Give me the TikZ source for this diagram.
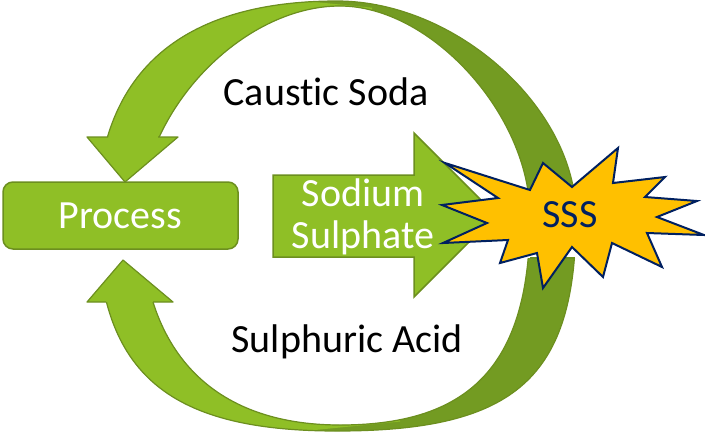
\documentclass[tikz,border=0pt]{standalone}
\usepackage{fontspec}
\setmainfont{Carlito}[Ligatures=CommonOff]
\usetikzlibrary{positioning}
\definecolor{leaf}{RGB}{143,191,38}
\definecolor{moss}{RGB}{115,155,34}
\definecolor{mossline}{RGB}{108,143,31}
\definecolor{gold}{RGB}{255,192,0}
\definecolor{navy}{RGB}{0,32,96}
\tikzset{
    label text/.style = {
        font=\fontsize{40}{48}\selectfont,
        anchor=base,
        inner sep=0pt,
        },
    light band/.style = {
        fill = leaf,
        },
    dark band/.style = {
        fill = moss,
        },
    band edge/.style = {
        draw = mossline,
        line width=1.2pt,
        line join=round,
        },
    process box/.style = {
        fill = leaf,
        draw = mossline,
        line width=1.5pt,
        rounded corners=10pt,
        minimum width=235pt,
        minimum height=67pt,
        text = white,
        font=\fontsize{40}{48}\selectfont,
        },
    burst/.style = {
        fill = gold,
        draw = navy,
        line width=2pt,
        },
}
% the two halves of the loop
\newcommand\causticloop{(97,216) .. controls (97,74.8) and (178.6,1) .. (337,1)
    .. controls (456.5,1) and (576,108.5) .. (576,216) -- (576,230) -- (530,230) -- (530,216)
    .. controls (530,115.2) and (431.2,6) .. (340,6)
    .. controls (242.5,6) and (141,111) .. (141,216) -- cycle}
\newcommand\sulphuricloop{(97,216) .. controls (97,370.8) and (164.2,431) .. (337,431)
    .. controls (516.25,431) and (576,377.25) .. (576,216) -- (530,216)
    .. controls (530,362) and (473,425) .. (340,425)
    .. controls (213.3,425) and (141,351.9) .. (141,216) -- cycle}

\begin{document}
\begin{tikzpicture}[x=1pt, y=-1pt]
    \useasboundingbox (0,0) rectangle (705,432);

    % caustic soda
    \begin{scope}
        \clip (-10,-10) -- (710,-10) -- (710,240) -- (330,240) -- (330,137) -- (-10,137) -- cycle;
        \path[dark band] \causticloop;
        \begin{scope}
            \clip (-10,-4.5) -- (250,-4.5) -- (372,7.7) -- (372,216) -- (-10,216) -- cycle;
            \path[light band] \causticloop;
        \end{scope}
        \path[band edge] \causticloop;
    \end{scope}
    \path[light band] (87,137) -- (178,137) -- (125,182) -- cycle;
    \draw[band edge] (108,137) -- (87,137) -- (125,182) -- (178,137) -- (158,137);

    % sulphuric acid
    \begin{scope}
        \clip (-10,302) -- (330,302) -- (330,258) -- (710,258) -- (710,450) -- (-10,450) -- cycle;
        \path[dark band] \sulphuricloop;
        \begin{scope}
            \clip (-10,200) -- (400,200) -- (400,421.5) -- (250,436.5) -- (-10,436.5) -- cycle;
            \path[light band] \sulphuricloop;
        \end{scope}
        \path[band edge] \sulphuricloop;
    \end{scope}
    \draw[band edge] (530,258) -- (575,258);
    \path[light band] (87,302) -- (173,302) -- (123,260) -- cycle;
    \draw[band edge] (106,302) -- (87,302) -- (123,260) -- (173,302) -- (153,302);

    \node[process box] (process) at (120.5,215.5) {Process};

    \draw[fill=leaf, draw=mossline, line width=1.5pt] (273,175) -- (414,175) -- (414,133) -- (496,215)
        -- (414,297) -- (414,257) -- (273,257) -- cycle;
    \node[label text, text=white] (sodium) at (363,206) {Sodium};
    \node[label text, text=white] (sulphate) at ([yshift=-42pt]sodium.base) {Sulphate};

    \draw[burst] (445,163) -- (530,190) -- (543,163) -- (572,187) -- (618,148) -- (613,183)
        -- (665,177) -- (645,197) -- (697,201) -- (657,217) -- (704,235) -- (647,233)
        -- (662,267) -- (612,243) -- (603,277) -- (572,247) -- (543,288) -- (537,253)
        -- (500,263) -- (508,240) -- (443,243) -- (487,223) -- (442,205) -- (498,198) -- cycle;
    \node[label text, text=navy] (sss) at (570,227) {SSS};

    \node[label text] (caustic) at (326,105) {Caustic Soda};
    \node[label text] (sulphuric) at (347,352) {Sulphuric Acid};
\end{tikzpicture}
\end{document}
